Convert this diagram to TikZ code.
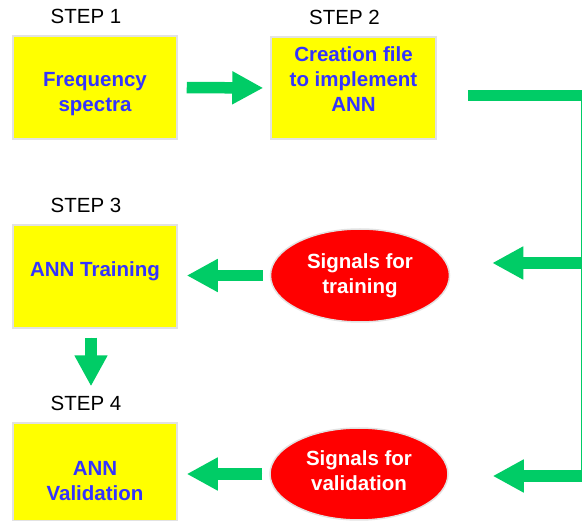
\documentclass[tikz,border=0pt]{standalone}
\usepackage{fontspec}
\setmainfont{Liberation Sans}
\usetikzlibrary{arrows.meta}
\usetikzlibrary{positioning}
\usetikzlibrary{shapes.geometric}
\definecolor{stepYellow}{RGB}{255,255,0}
\definecolor{stepBlue}{RGB}{51,51,255}
\definecolor{signalRed}{RGB}{255,0,0}
\definecolor{flowGreen}{RGB}{0,204,102}
\definecolor{edgeGray}{RGB}{226,226,226}

\begin{document}
\begin{tikzpicture}[x=1pt,y=1pt,
  step node/.style={rectangle,fill=stepYellow,draw=edgeGray,line width=1.5pt,
  font=\fontsize{20.5}{25}\selectfont\bfseries,text=stepBlue,align=center,
  inner sep=0pt,minimum width=164pt,minimum height=103pt},
  signal node/.style={ellipse,fill=signalRed,draw=edgeGray,line width=1.5pt,
  font=\fontsize{20.5}{24.5}\selectfont\bfseries,text=white,align=center,
  inner sep=0pt,minimum width=179pt,minimum height=93pt},
  step label/.style={font=\fontsize{20.5}{25}\selectfont,inner sep=0pt,xshift=-9pt},
  block arrow/.style={-{Triangle[length=31pt,width=31pt]},draw=flowGreen,fill=flowGreen,
  line width=11.5pt},
  block line/.style={draw=flowGreen,line width=11pt}]
\useasboundingbox (0,0) rectangle (582,-521);
%------------------------------------------------------------------------
% The steps
%------------------------------------------------------------------------
\node[step node,text height=52pt] (freq) at (95,-87.5) {Frequency\\spectra};
\node[step node,minimum width=165pt,minimum height=102pt,text depth=18pt] (file) at (353.5,-88) {Creation file\\to implement\\ANN};
\node[step node,text depth=15pt] (train) at (95,-276.5) {ANN Training};
\node[step node,minimum height=98pt,text height=58pt] (valid) at (95,-472) {ANN\\Validation};
\node[step label] (s1) [above=11pt of freq] {STEP 1};
\node[step label] (s2) [above=11pt of file] {STEP 2};
\node[step label] (s3) [above=11pt of train] {STEP 3};
\node[step label] (s4) [above=11pt of valid] {STEP 4};
%------------------------------------------------------------------------
% The signals
%------------------------------------------------------------------------
\node[signal node] (trsig) at (360,-275.5) {Signals for\\training};
\node[signal node,minimum width=178pt,minimum height=92pt,text depth=7pt] (vasig) at (359,-474) {Signals for\\validation};
\coordinate (bus top) at (582,-95.5);
\coordinate (tr in) at (582,-263);
\coordinate (va in) at (582,-476);
%------------------------------------------------------------------------
% The flow
%------------------------------------------------------------------------
\draw[block arrow,shorten <=9pt,shorten >=7pt] (freq.east) -- (file.west);
\draw[block line,shorten <=31pt] (file.east |- bus top) -- (bus top);% Output of step 2
\draw[flowGreen,line width=1.2pt] ([xshift=-0.6pt]bus top) -- ([xshift=-0.6pt]va in);
\draw[block arrow,shorten >=42pt] (tr in) -- (tr in -| trsig.east);
\draw[block arrow,shorten >=44pt] (va in) -- (va in -| vasig.east);
\draw[block arrow,shorten <=7pt,shorten >=9pt] (trsig.west) -- (trsig.west -| train.east);
\draw[block arrow,shorten <=7pt,shorten >=9pt] (vasig.west) -- (vasig.west -| valid.east);
\draw[block arrow,shorten <=9pt,shorten >=10pt] ([xshift=-4pt]train.south) -- ([xshift=-4pt]train.south |- s4.north);

\end{tikzpicture}
\end{document}
